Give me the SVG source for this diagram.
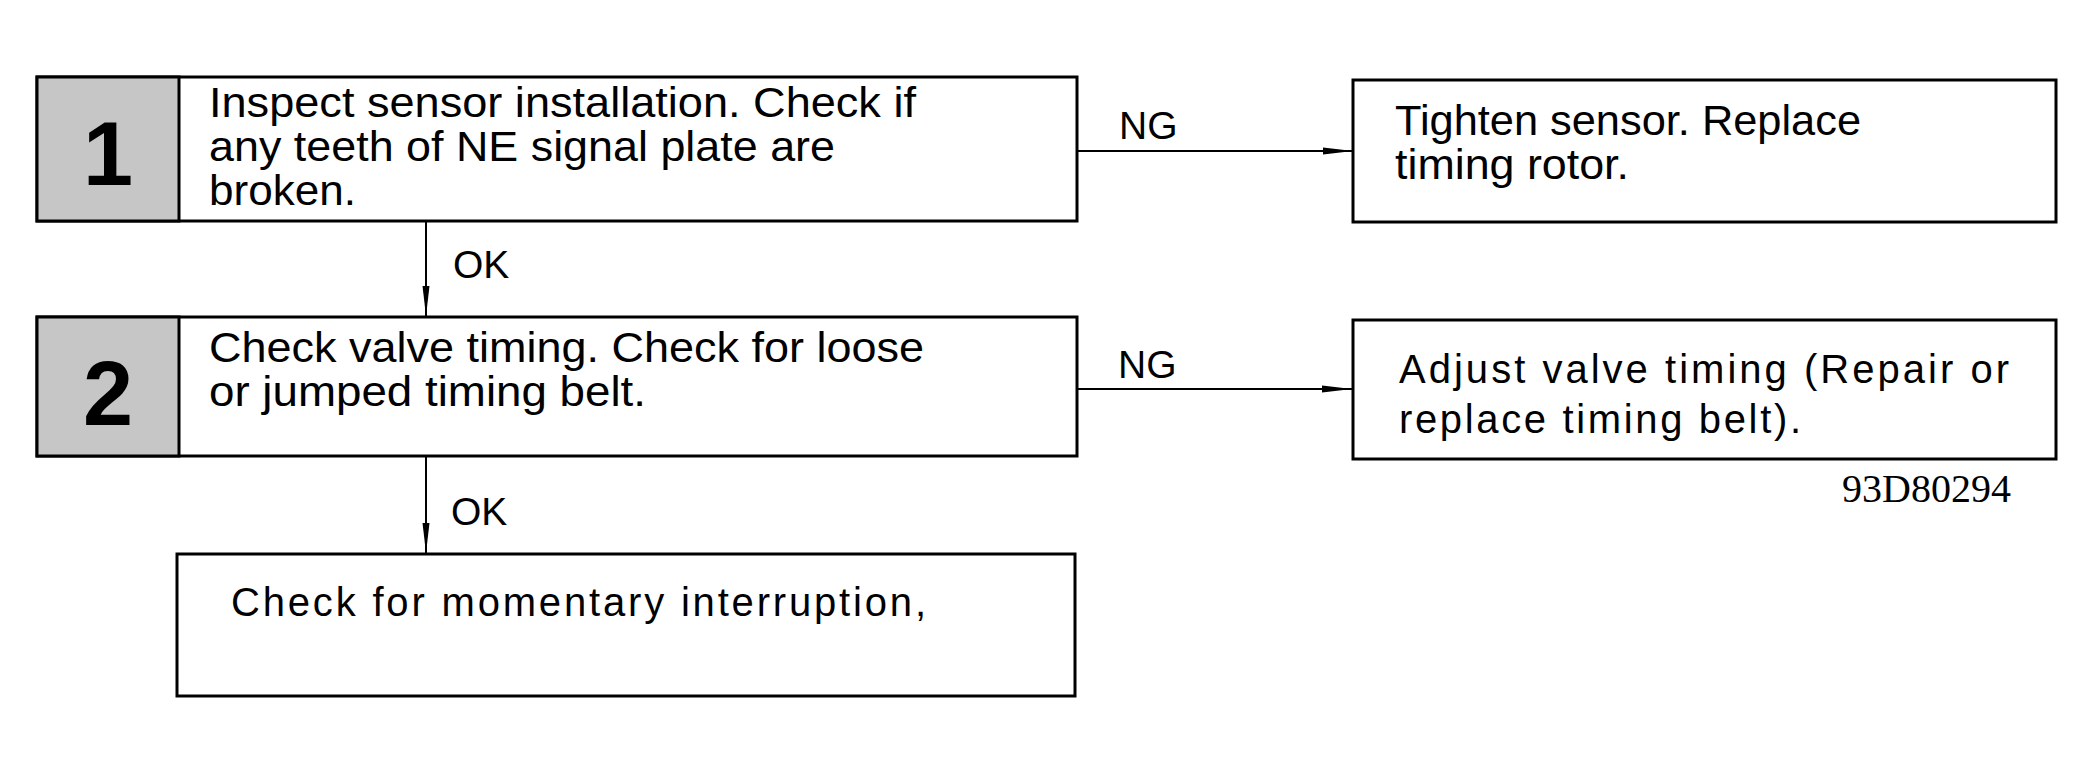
<svg xmlns="http://www.w3.org/2000/svg" width="2095" height="774" viewBox="0 0 2095 774">
<style>
.box{fill:#fff;stroke:#000;stroke-width:3}
.num{fill:#c6c6c6;stroke:#000;stroke-width:3}
.t{font-family:"Liberation Sans",Arial,sans-serif;font-size:43px;fill:#000}
.tr{font-family:"Liberation Sans",Arial,sans-serif;font-size:43px;fill:#000}
.tw{font-family:"Liberation Sans",Arial,sans-serif;font-size:40px;fill:#000}
.d{font-family:"Liberation Sans",Arial,sans-serif;font-size:90px;font-weight:bold;fill:#000;text-anchor:middle}
.lbl{font-family:"Liberation Sans",Arial,sans-serif;font-size:39px;fill:#000}
.c{stroke:#000;stroke-width:2;fill:none}
.ref{font-family:"Liberation Serif","Times New Roman",serif;font-size:40px;fill:#000}
</style>
<defs>
<marker id="ah" markerUnits="userSpaceOnUse" markerWidth="30" markerHeight="10" refX="30" refY="5" orient="auto">
<path d="M0,1.5 L30,5 L0,8.5 z" fill="#000"/>
</marker>
</defs>
<g id="connectors">
<line class="c" x1="426" y1="221" x2="426" y2="316" marker-end="url(#ah)"/>
<line class="c" x1="426" y1="456" x2="426" y2="553" marker-end="url(#ah)"/>
<line class="c" x1="1077" y1="151" x2="1353" y2="151" marker-end="url(#ah)"/>
<line class="c" x1="1077" y1="389" x2="1352" y2="389" marker-end="url(#ah)"/>
<text class="lbl" x="453" y="278">OK</text>
<text class="lbl" x="451" y="525">OK</text>
<text class="lbl" x="1119" y="139">NG</text>
<text class="lbl" x="1118" y="378">NG</text>
</g>
<g id="step1">
<rect class="box" x="37" y="77" width="1040" height="144"/>
<rect class="num" x="37" y="77" width="142" height="144"/>
<text class="d" x="108" y="185">1</text>
<text class="t" x="209" y="117" textLength="707" lengthAdjust="spacingAndGlyphs">Inspect sensor installation. Check if</text>
<text class="t" x="209" y="161" textLength="626" lengthAdjust="spacingAndGlyphs">any teeth of NE signal plate are</text>
<text class="t" x="209" y="205" textLength="147" lengthAdjust="spacingAndGlyphs">broken.</text>
</g>
<g id="ng1">
<rect class="box" x="1353" y="80" width="703" height="142"/>
<text class="tr" x="1395" y="135" textLength="466" lengthAdjust="spacingAndGlyphs">Tighten sensor. Replace</text>
<text class="tr" x="1395" y="179" textLength="234" lengthAdjust="spacingAndGlyphs">timing rotor.</text>
</g>
<g id="step2">
<rect class="box" x="37" y="317" width="1040" height="139"/>
<rect class="num" x="37" y="317" width="142" height="139"/>
<text class="d" x="108" y="425">2</text>
<text class="t" x="209" y="362" textLength="715" lengthAdjust="spacingAndGlyphs">Check valve timing. Check for loose</text>
<text class="t" x="209" y="406" textLength="437" lengthAdjust="spacingAndGlyphs">or jumped timing belt.</text>
</g>
<g id="ng2">
<rect class="box" x="1353" y="320" width="703" height="139"/>
<text class="tw" x="1399" y="383" textLength="610" lengthAdjust="spacing">Adjust valve timing (Repair or</text>
<text class="tw" x="1399" y="433" textLength="402" lengthAdjust="spacing">replace timing belt).</text>
</g>
<g id="step3">
<rect class="box" x="177" y="554" width="898" height="142"/>
<text class="tw" x="231" y="616" textLength="695" lengthAdjust="spacing">Check for momentary interruption,</text>
</g>
<text class="ref" x="1842" y="502">93D80294</text>
</svg>
